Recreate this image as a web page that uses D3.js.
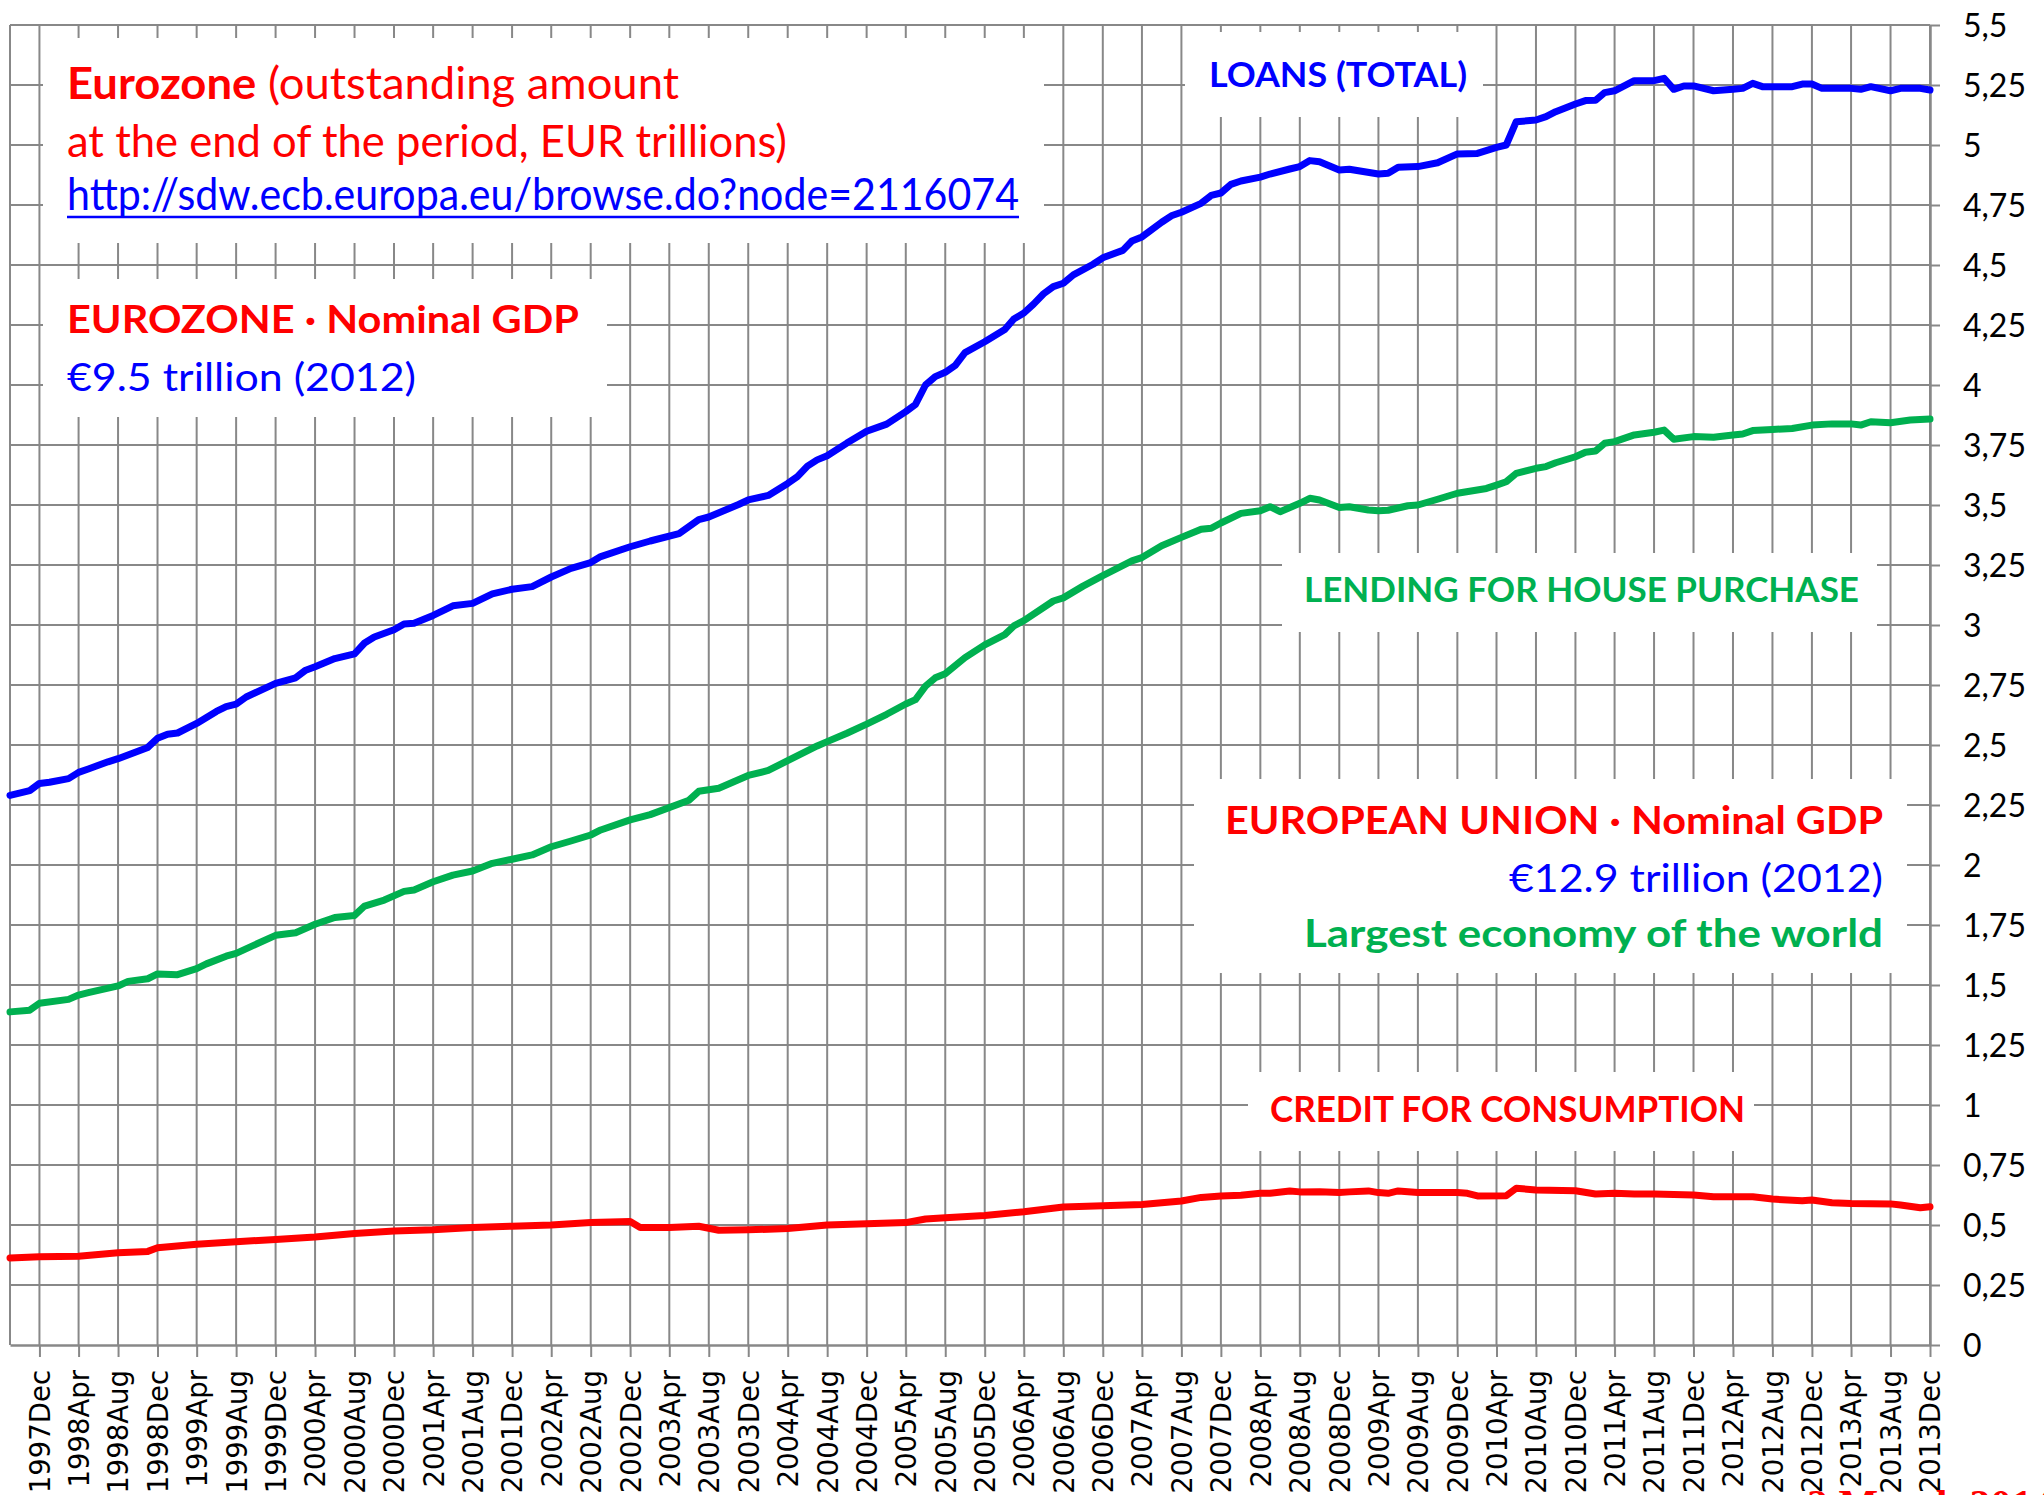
<!DOCTYPE html>
<html>
<head>
<meta charset="utf-8">
<script src="https://cdn.jsdelivr.net/npm/d3@7"></script>
<style>
  body { margin: 0; background: #fff; }
  svg { display: block; }
</style>
</head>
<body>
<svg id="chart"></svg>
<script>
// Eurozone loans, outstanding amount at end of month, EUR trillions
const loansTotal = [
  ["1997-09",2.29],["1997-11",2.31],["1997-12",2.34],["1998-01",2.345],["1998-03",2.36],["1998-04",2.386],
  ["1998-05",2.40],["1998-07",2.43],["1998-08",2.443],["1998-11",2.49],["1998-12",2.528],["1999-01",2.545],
  ["1999-02",2.55],["1999-04",2.59],["1999-06",2.64],["1999-07",2.66],["1999-08",2.67],["1999-09",2.70],
  ["1999-12",2.757],["2000-02",2.78],["2000-03",2.81],["2000-04",2.826],["2000-06",2.86],["2000-08",2.88],
  ["2000-09",2.925],["2000-10",2.95],["2000-12",2.98],["2001-01",3.004],["2001-02",3.007],["2001-04",3.04],
  ["2001-06",3.08],["2001-08",3.09],["2001-10",3.13],["2001-12",3.149],["2002-02",3.16],["2002-04",3.20],
  ["2002-06",3.236],["2002-08",3.26],["2002-09",3.285],["2002-12",3.326],["2003-02",3.35],["2003-05",3.381],
  ["2003-07",3.439],["2003-08",3.45],["2003-11",3.502],["2003-12",3.521],["2004-02",3.54],["2004-04",3.59],
  ["2004-05",3.618],["2004-06",3.662],["2004-07",3.688],["2004-08",3.705],["2004-10",3.758],["2004-12",3.807],
  ["2005-02",3.837],["2005-04",3.889],["2005-05",3.919],["2005-06",4.0],["2005-07",4.035],["2005-08",4.053],
  ["2005-09",4.082],["2005-10",4.135],["2005-12",4.18],["2006-02",4.231],["2006-03",4.275],["2006-04",4.30],
  ["2006-05",4.337],["2006-06",4.38],["2006-07",4.41],["2006-08",4.424],["2006-09",4.459],["2006-11",4.503],
  ["2006-12",4.53],["2007-02",4.561],["2007-03",4.60],["2007-04",4.617],["2007-06",4.678],["2007-07",4.705],
  ["2007-08",4.72],["2007-10",4.757],["2007-11",4.79],["2007-12",4.80],["2008-01",4.836],["2008-02",4.85],
  ["2008-04",4.866],["2008-05",4.879],["2008-07",4.90],["2008-08",4.91],["2008-09",4.935],["2008-10",4.93],
  ["2008-12",4.896],["2009-01",4.899],["2009-04",4.879],["2009-05",4.882],["2009-06",4.907],["2009-08",4.91],
  ["2009-10",4.926],["2009-12",4.963],["2010-02",4.965],["2010-04",4.99],["2010-05",5.0],["2010-06",5.097],
  ["2010-08",5.104],["2010-09",5.118],["2010-10",5.139],["2010-12",5.171],["2011-01",5.185],["2011-02",5.186],
  ["2011-03",5.218],["2011-04",5.226],["2011-06",5.268],["2011-08",5.268],["2011-09",5.278],["2011-10",5.232],
  ["2011-11",5.246],["2011-12",5.246],["2012-02",5.226],["2012-04",5.232],["2012-05",5.236],["2012-06",5.257],
  ["2012-07",5.243],["2012-10",5.243],["2012-11",5.254],["2012-12",5.254],["2013-01",5.236],["2013-04",5.236],
  ["2013-05",5.232],["2013-06",5.243],["2013-08",5.226],["2013-09",5.236],["2013-11",5.236],["2013-12",5.229]
];

const housePurchase = [
  ["1997-09",1.388],["1997-11",1.395],["1997-12",1.424],["1998-03",1.44],["1998-04",1.458],["1998-05",1.468],
  ["1998-08",1.496],["1998-09",1.515],["1998-11",1.526],["1998-12",1.546],["1999-02",1.543],["1999-04",1.568],
  ["1999-05",1.588],["1999-07",1.62],["1999-08",1.632],["1999-12",1.707],["2000-02",1.718],["2000-04",1.753],
  ["2000-06",1.781],["2000-08",1.79],["2000-09",1.829],["2000-11",1.854],["2001-01",1.89],["2001-02",1.896],
  ["2001-04",1.93],["2001-06",1.958],["2001-08",1.975],["2001-10",2.007],["2001-12",2.024],["2002-02",2.042],
  ["2002-04",2.076],["2002-06",2.10],["2002-08",2.125],["2002-09",2.146],["2002-12",2.188],["2003-02",2.21],
  ["2003-06",2.27],["2003-07",2.307],["2003-09",2.32],["2003-12",2.373],["2004-02",2.394],["2004-04",2.435],
  ["2004-07",2.496],["2004-08",2.514],["2004-10",2.549],["2004-12",2.587],["2005-02",2.628],["2005-04",2.671],
  ["2005-05",2.689],["2005-06",2.745],["2005-07",2.78],["2005-08",2.797],["2005-10",2.864],["2005-12",2.917],
  ["2006-02",2.96],["2006-03",2.996],["2006-04",3.018],["2006-07",3.10],["2006-08",3.113],["2006-10",3.162],
  ["2006-12",3.206],["2007-03",3.267],["2007-04",3.281],["2007-06",3.33],["2007-08",3.365],["2007-10",3.399],
  ["2007-11",3.403],["2007-12",3.425],["2008-02",3.465],["2008-04",3.476],["2008-05",3.493],["2008-06",3.472],
  ["2008-08",3.507],["2008-09",3.528],["2008-10",3.521],["2008-12",3.49],["2009-01",3.493],["2009-03",3.479],
  ["2009-04",3.476],["2009-05",3.478],["2009-07",3.497],["2009-08",3.50],["2009-10",3.524],["2009-12",3.549],
  ["2010-03",3.569],["2010-04",3.583],["2010-05",3.597],["2010-06",3.632],["2010-08",3.653],["2010-09",3.66],
  ["2010-10",3.676],["2010-12",3.701],["2011-01",3.72],["2011-02",3.725],["2011-03",3.757],["2011-04",3.764],
  ["2011-06",3.792],["2011-08",3.803],["2011-09",3.812],["2011-10",3.774],["2011-12",3.785],["2012-02",3.782],
  ["2012-04",3.792],["2012-05",3.796],["2012-06",3.81],["2012-08",3.815],["2012-10",3.819],["2012-12",3.833],
  ["2013-02",3.838],["2013-04",3.838],["2013-05",3.833],["2013-06",3.847],["2013-08",3.843],["2013-10",3.854],
  ["2013-12",3.858]
];

const consumptionCredit = [
  ["1997-09",0.363],["1997-12",0.368],["1998-04",0.37],["1998-08",0.384],["1998-11",0.39],["1998-12",0.405],
  ["1999-04",0.42],["1999-08",0.43],["1999-12",0.44],["2000-04",0.45],["2000-08",0.465],["2000-12",0.475],
  ["2001-04",0.48],["2001-08",0.49],["2001-12",0.495],["2002-04",0.50],["2002-08",0.51],["2002-12",0.515],
  ["2003-01",0.49],["2003-04",0.49],["2003-07",0.495],["2003-09",0.478],["2003-12",0.48],["2004-04",0.485],
  ["2004-08",0.50],["2004-12",0.505],["2005-04",0.51],["2005-06",0.525],["2005-08",0.53],["2005-12",0.54],
  ["2006-04",0.555],["2006-08",0.575],["2006-12",0.58],["2007-04",0.585],["2007-08",0.60],["2007-10",0.615],
  ["2007-12",0.621],["2008-02",0.624],["2008-04",0.632],["2008-05",0.632],["2008-07",0.642],["2008-08",0.638],
  ["2008-10",0.639],["2008-12",0.635],["2009-01",0.638],["2009-03",0.642],["2009-04",0.635],["2009-05",0.632],
  ["2009-06",0.642],["2009-08",0.635],["2009-12",0.635],["2010-01",0.632],["2010-02",0.621],["2010-05",0.622],
  ["2010-06",0.653],["2010-08",0.646],["2010-12",0.643],["2011-02",0.629],["2011-04",0.632],["2011-06",0.629],
  ["2011-08",0.629],["2011-12",0.625],["2012-02",0.618],["2012-06",0.618],["2012-08",0.608],["2012-11",0.601],
  ["2012-12",0.604],["2013-02",0.593],["2013-04",0.59],["2013-08",0.588],["2013-09",0.583],["2013-11",0.572],
  ["2013-12",0.576]
];

// axis settings
const yTicks = [0, 0.25, 0.5, 0.75, 1, 1.25, 1.5, 1.75, 2, 2.25, 2.5, 2.75, 3, 3.25, 3.5, 3.75, 4, 4.25, 4.5, 4.75, 5, 5.25, 5.5];
const firstMonth = "1997-09", lastMonth = "2013-12", firstTickMonth = "1997-12";

const width = 2044, height = 1495;
const plot = {left: 10, right: 1930, top: 25, bottom: 1345};
const gridColor = "#888888";
const RED = "#ff0000", BLUE = "#0000ff", GREEN = "#00b050";

const svg = d3.select("#chart").attr("width", width).attr("height", height)
  .style("background", "#fff");

const parseMonth = d3.timeParse("%Y-%m");

const x = d3.scaleTime()
  .domain([parseMonth(firstMonth), parseMonth(lastMonth)])
  .range([plot.left, plot.right]);

const y = d3.scaleLinear()
  .domain([0, 5.5])
  .range([plot.bottom, plot.top]);

// one tick every 4 months: Dec, Apr, Aug
const xTicks = d3.timeMonth.range(parseMonth(firstTickMonth), d3.timeMonth.offset(parseMonth(lastMonth), 1), 4);

const commaFormat = d3.formatLocale({decimal: ",", thousands: ".", grouping: [3], currency: ["", " €"]}).format(".2~f");

// Gridlines
const grid = svg.append("g");
grid.selectAll("line.h")
  .data(yTicks.filter(v => v > 0))
  .join("line")
  .attr("class", "h")
  .attr("x1", plot.left).attr("x2", plot.right)
  .attr("y1", d => y(d)).attr("y2", d => y(d))
  .attr("stroke", gridColor).attr("stroke-width", 2);

grid.selectAll("line.v")
  .data(xTicks)
  .join("line")
  .attr("class", "v")
  .attr("x1", d => x(d)).attr("x2", d => x(d))
  .attr("y1", plot.top).attr("y2", plot.bottom)
  .attr("stroke", gridColor).attr("stroke-width", 2);

grid.append("line")
  .attr("x1", plot.left).attr("x2", plot.left)
  .attr("y1", plot.top).attr("y2", plot.bottom)
  .attr("stroke", gridColor).attr("stroke-width", 2);

// Axes
const xAxis = svg.append("g")
  .attr("transform", `translate(0,${plot.bottom})`)
  .call(d3.axisBottom(x).tickValues(xTicks).tickFormat(d3.timeFormat("%Y%b")).tickSize(12).tickSizeOuter(0));

xAxis.select(".domain").attr("stroke", gridColor).attr("stroke-width", 2.5);
xAxis.selectAll(".tick line").attr("stroke", gridColor).attr("stroke-width", 2);
xAxis.selectAll(".tick text")
  .attr("transform", "rotate(-90)")
  .attr("text-anchor", "end")
  .attr("x", -25)
  .attr("y", 0)
  .attr("dy", "0.36em")
  .style("font-family", "'DejaVu Sans', sans-serif")
  .style("font-size", "27.5px")
  .attr("fill", "#000");

const yAxis = svg.append("g")
  .attr("transform", `translate(${plot.right},0)`)
  .call(d3.axisRight(y).tickValues(yTicks).tickFormat(commaFormat).tickSize(10).tickPadding(23).tickSizeOuter(0));

yAxis.select(".domain").attr("stroke", gridColor).attr("stroke-width", 2.5);
yAxis.selectAll(".tick line").attr("stroke", gridColor).attr("stroke-width", 2);
yAxis.selectAll(".tick text")
  .attr("dy", "0.37em")
  .style("font-family", "Lato, 'Open Sans', sans-serif")
  .style("font-size", "32px")
  .attr("fill", "#000");

// White text boxes sitting on the grid
const boxes = [
  [43, 38, 1044, 243],
  [43, 279, 607, 417],
  [1185, 32, 1483, 117],
  [1282, 553, 1877, 632],
  [1194, 779, 1907, 973],
  [1248, 1072, 1754, 1151]
];
svg.append("g").selectAll("rect")
  .data(boxes)
  .join("rect")
  .attr("x", d => d[0]).attr("y", d => d[1])
  .attr("width", d => d[2] - d[0]).attr("height", d => d[3] - d[1])
  .attr("fill", "#fff");

const notes = svg.append("g").style("font-family", "Lato, 'Open Sans', sans-serif");

function note(txt, px, py, size, color, bold, len, anchor) {
  return notes.append("text")
    .attr("x", px).attr("y", py)
    .attr("text-anchor", anchor || "start")
    .attr("textLength", len)
    .attr("lengthAdjust", "spacingAndGlyphs")
    .style("font-size", size + "px")
    .style("font-weight", bold ? 700 : 400)
    .attr("fill", color)
    .text(txt);
}

// top-left block
const t1 = notes.append("text")
  .attr("x", 67).attr("y", 99)
  .attr("textLength", 612)
  .attr("lengthAdjust", "spacingAndGlyphs")
  .style("font-size", "44px")
  .attr("fill", RED);
t1.append("tspan").style("font-weight", 700).text("Eurozone");
t1.append("tspan").style("font-weight", 400).text(" (outstanding amount");

note("at the end of the period, EUR trillions)", 67, 157, 44, RED, false, 720);
note("http://sdw.ecb.europa.eu/browse.do?node=2116074", 67, 210, 44, BLUE, false, 952);
notes.append("line")
  .attr("x1", 67).attr("x2", 1019).attr("y1", 217).attr("y2", 217)
  .attr("stroke", BLUE).attr("stroke-width", 2.5);

note("EUROZONE · Nominal GDP", 67, 333, 38, RED, true, 512);
note("€9.5 trillion (2012)", 67, 391, 38, BLUE, false, 349);

note("LOANS (TOTAL)", 1209, 87, 34, BLUE, true, 258);
note("LENDING FOR HOUSE PURCHASE", 1304, 602, 35, GREEN, true, 555);

note("EUROPEAN UNION · Nominal GDP", 1883, 834, 39, RED, true, 658, "end");
note("€12.9 trillion (2012)", 1883, 892, 39, BLUE, false, 374, "end");
note("Largest economy of the world", 1883, 947, 39, GREEN, true, 579, "end");

note("CREDIT FOR CONSUMPTION", 1270, 1122, 36, RED, true, 475);

// footer text, clipped by the bottom edge as in the original
svg.append("text")
  .attr("x", 1807).attr("y", 1519)
  .style("font-family", "'Liberation Serif', serif")
  .style("font-weight", 700)
  .style("font-size", "42px")
  .attr("fill", RED)
  .text("2 March 2014");

// Series lines
const line = d3.line()
  .x(d => x(parseMonth(d[0])))
  .y(d => y(d[1]));

const series = [
  {data: consumptionCredit, color: RED},
  {data: housePurchase, color: GREEN},
  {data: loansTotal, color: BLUE}
];

svg.append("g").selectAll("path")
  .data(series)
  .join("path")
  .attr("d", d => line(d.data))
  .attr("fill", "none")
  .attr("stroke", d => d.color)
  .attr("stroke-width", 7)
  .attr("stroke-linejoin", "round")
  .attr("stroke-linecap", "round");
</script>
</body>
</html>
